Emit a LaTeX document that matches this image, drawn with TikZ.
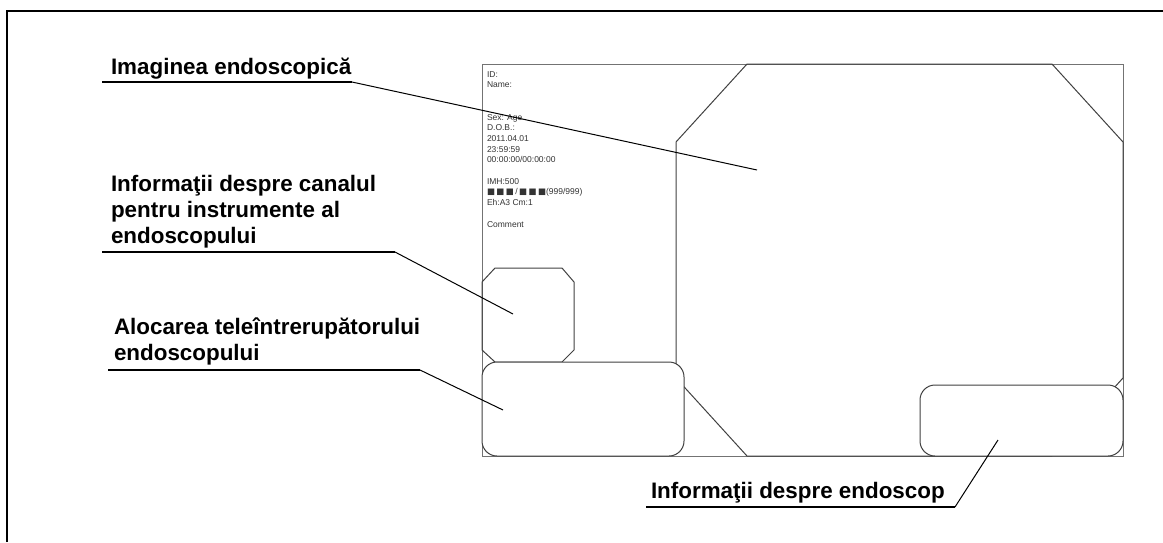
\documentclass[tikz,border=0pt]{standalone}
\usepackage{fontspec}
\setmainfont{Liberation Sans}
\newfontfamily\sqfont{DejaVu Sans}
\begin{document}
\begin{tikzpicture}[x=1pt,y=-1pt]
\tikzset{ inner sep=0pt, outer sep=0pt,
  frame/.style={line width=2.4pt},
  scr/.style={draw=black!55, line width=0.8pt},
  oct/.style={draw=black!75, line width=1pt},
  rbox/.style={draw=black!75, fill=white, line width=1pt, rounded corners=15pt},
  uline/.style={line width=2.2pt},
  leader/.style={line width=1pt},
  lbl/.style={anchor=base west, align=left, font=\bfseries\fontsize{22.4}{26}\selectfont},
  info/.style={anchor=base west, align=left, text=black!80, font=\fontsize{8.5}{10.7}\selectfont},
}
\useasboundingbox (0,0) rectangle (1163,542);

%\draw [lightgray, dashed](0,0) grid (1163,542);

\draw [frame] (7,542) -- (7,11) -- (1163,11);

% monitor screen
\draw [scr] (482,64) rectangle (1123,456);
\draw [oct] (747,64) -- (1052,64) -- (1123,142) -- (1123,378) -- (1052,456)
  -- (747,456) -- (676,378) -- (676,142) -- cycle;
\draw [oct] (495,268) -- (562,268) -- (574,282) -- (574,350) -- (562,362)
  -- (495,362) -- (482,350) -- (482,282) -- cycle;
\draw [rbox] (482,362) rectangle (684,456);
\draw [rbox] (920,385) rectangle (1123,456);

% base = last line
\node [info] (I) at (487,227) {ID:\\Name:\\[21.4pt]Sex: Age\\D.O.B.:\\2011.04.01\\23:59:59\\00:00:00/00:00:00\\[10.7pt]IMH:500\\{\sqfont ■\,■\,■}\,/\,{\sqfont ■\,■\,■}(999/999)\\Eh:A3 Cm:1\\[10.7pt]Comment};

\node [lbl] (E) at (111,74)  {Imaginea endoscopică};
\node [lbl] (C) at (111,243) {Informaţii despre canalul\\pentru instrumente al\\endoscopului};
\node [lbl] (A) at (114,360) {Alocarea teleîntrerupătorului\\endoscopului};
\node [lbl] (D) at (651,498) {Informaţii despre endoscop};

\coordinate (E1) at (102,82);  \coordinate (E2) at (352,82);  \coordinate (E3) at (757,170);
\coordinate (C1) at (102,252); \coordinate (C2) at (395,252); \coordinate (C3) at (513,314);
\coordinate (A1) at (108,370); \coordinate (A2) at (420,370); \coordinate (A3) at (503,410);
\coordinate (D1) at (646,507); \coordinate (D2) at (955,507); \coordinate (D3) at (998,440);

\draw [uline] (E1) -- (E2);  \draw [leader] (E2) -- (E3);
\draw [uline] (C1) -- (C2);  \draw [leader] (C2) -- (C3);
\draw [uline] (A1) -- (A2);  \draw [leader] (A2) -- (A3);
\draw [uline] (D1) -- (D2);  \draw [leader] (D2) -- (D3);

\end{tikzpicture}
\end{document}
